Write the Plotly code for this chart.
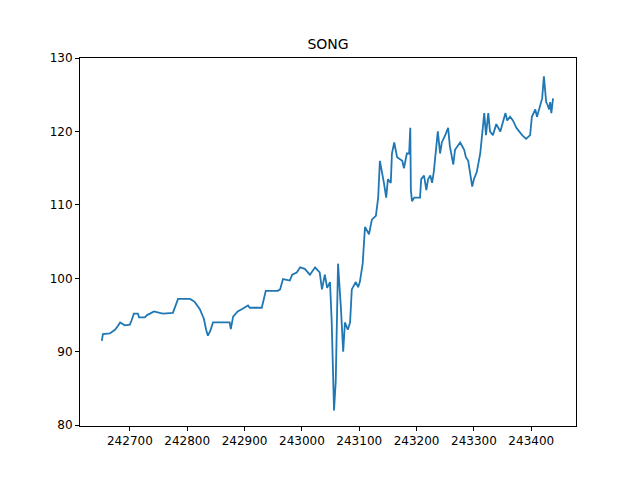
import plotly.graph_objects as go

# values
dates = [242651, 242653, 242665, 242674, 242679, 242683, 242691, 242700, 242703, 242707,
         242714, 242716, 242726, 242730, 242735, 242742, 242752, 242758, 242775, 242780,
         242784, 242805, 242813, 242822, 242829, 242833, 242836, 242840, 242845, 242874,
         242876, 242880, 242888, 242895, 242906, 242909, 242930, 242937, 242958, 242962,
         242967, 242979, 242983, 242991, 242997, 243005, 243014, 243023, 243031, 243035,
         243040, 243044, 243049, 243052, 243056, 243059, 243063, 243068, 243072, 243075,
         243080, 243084, 243087, 243094, 243098, 243101, 243106, 243110, 243117, 243122,
         243129, 243133, 243136, 243143, 243147, 243150, 243155, 243157, 243161, 243166,
         243175, 243178, 243183, 243187, 243189, 243190, 243192, 243196, 243206, 243208,
         243213, 243217, 243220, 243224, 243227, 243230, 243237, 243241, 243244, 243250,
         243255, 243258, 243264, 243267, 243276, 243283, 243286, 243290, 243295, 243297,
         243300, 243305, 243311, 243314, 243318, 243321, 243325, 243328, 243333, 243339,
         243346, 243355, 243358, 243363, 243368, 243374, 243379, 243384, 243391, 243398,
         243401, 243407, 243410, 243414, 243419, 243422, 243426, 243429, 243431, 243433,
         243435, 243438]
prices = [91.5, 92.4, 92.5, 93.0, 93.5, 94.0, 93.6, 93.7, 94.3, 95.2,
          95.2, 94.7, 94.7, 95.0, 95.2, 95.5, 95.3, 95.2, 95.3, 96.5,
          97.2, 97.2, 96.8, 95.8, 94.5, 93.0, 92.2, 92.8, 94.0, 94.0,
          93.1, 94.8, 95.5, 95.8, 96.3, 96.0, 96.0, 98.3, 98.3, 98.5,
          99.9, 99.7, 100.5, 100.8, 101.5, 101.3, 100.5, 101.5, 100.8, 98.5,
          100.5, 98.7, 99.5, 94.0, 82.0, 86.0, 102.0, 96.0, 90.0, 94.0,
          93.0, 94.0, 98.5, 99.5, 98.8, 99.5, 102.0, 107.0, 106.0, 108.0,
          108.5, 111.0, 116.0, 113.0, 111.0, 113.5, 113.0, 117.0, 118.5, 116.5,
          116.0, 115.0, 117.0, 117.0, 120.5, 112.0, 110.5, 111.0, 111.0, 113.5,
          114.0, 112.0, 113.5, 114.0, 113.0, 114.5, 120.0, 117.0, 118.5, 119.5,
          120.5, 118.0, 115.5, 117.5, 118.5, 117.5, 116.5, 116.0, 113.5, 112.5,
          113.5, 114.5, 117.0, 119.0, 122.5, 119.5, 122.5, 120.0, 119.5, 121.0,
          120.0, 122.5, 121.5, 122.0, 121.5, 120.5, 120.0, 119.5, 119.0, 119.5,
          122.0, 123.0, 122.0, 123.0, 124.5, 127.5, 124.0, 123.5, 123.0, 124.0,
          122.5, 124.5]

fig = go.Figure(go.Scatter(x=dates, y=prices, mode="lines",
                           line=dict(color="#1f77b4", width=1.8)))

axis_style = dict(showline=True, linecolor="black", linewidth=1, mirror=True,
                  ticks="outside", ticklen=4, tickcolor="black",
                  showgrid=False, zeroline=False,
                  tickfont=dict(family="DejaVu Sans", size=12, color="black"))

fig.update_layout(
    width=640, height=480,
    paper_bgcolor="white", plot_bgcolor="white",
    margin=dict(l=72, r=72, t=50, b=62),
    showlegend=False,
    title=dict(text="SONG", x=0.5, xanchor="center", y=0.925, yanchor="middle",
               font=dict(family="DejaVu Sans", size=14, color="black")),
    xaxis=dict(range=[242613, 243478], tickvals=list(range(242700, 243401, 100)),
               tickformat="d", **axis_style),
    yaxis=dict(range=[79.9, 130], tickvals=[80, 90, 100, 110, 120, 130], **axis_style),
)

fig.write_html("out.html")
